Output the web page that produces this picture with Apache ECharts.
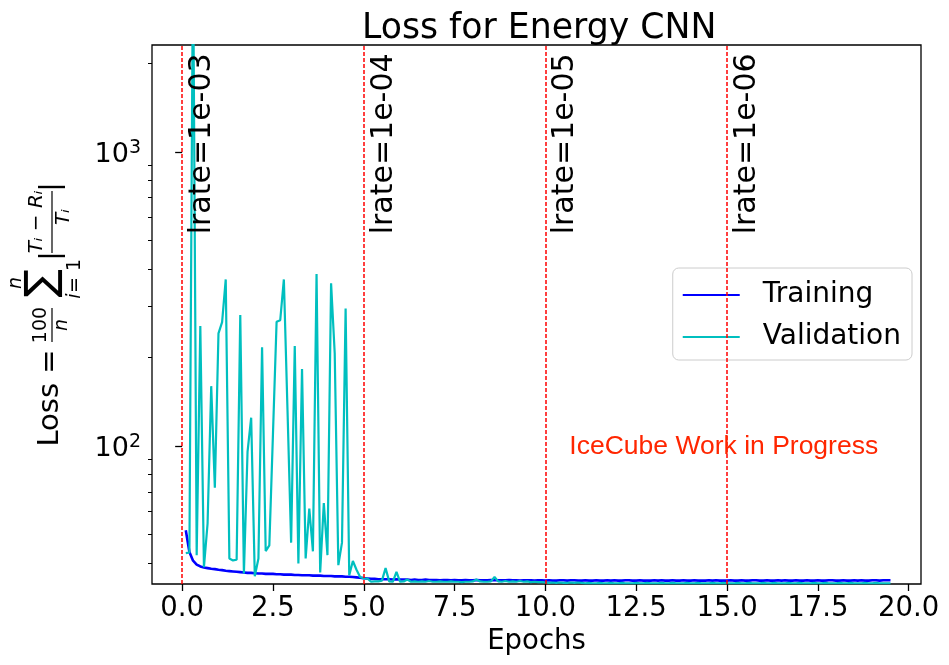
<!DOCTYPE html>
<html>
<head>
<meta charset="utf-8">
<script src="https://cdn.jsdelivr.net/npm/echarts@6/dist/echarts.min.js"></script>
<style>html,body{margin:0;padding:0;background:#fff}#main{width:949px;height:665px}</style>
</head>
<body>
<div id="main"></div>
<script>
var font = '"DejaVu Sans"';
var epochs = [0.1,0.2,0.3,0.4,0.5,0.6,0.7,0.8,0.9,1.0,1.1,1.2,1.3,1.4,1.5,1.6,1.7,1.8,1.9,2.0,
    2.1,2.2,2.3,2.4,2.5,2.6,2.7,2.8,2.9,3.0,3.1,3.2,3.3,3.4,3.5,3.6,3.7,3.8,3.9,4.0,
    4.1,4.2,4.3,4.4,4.5,4.6,4.7,4.8,4.9,5.0,5.1,5.2,5.3,5.4,5.5,5.6,5.7,5.8,5.9,6.0,
    6.1,6.2,6.3,6.4,6.5,6.6,6.7,6.8,6.9,7.0,7.1,7.2,7.3,7.4,7.5,7.6,7.7,7.8,7.9,8.0,
    8.1,8.2,8.3,8.4,8.5,8.6,8.7,8.8,8.9,9.0,9.1,9.2,9.3,9.4,9.5,9.6,9.7,9.8,9.9,10.0,
    10.1,10.2,10.3,10.4,10.5,10.6,10.7,10.8,10.9,11.0,11.1,11.2,11.3,11.4,11.5,11.6,11.7,11.8,11.9,12.0,
    12.1,12.2,12.3,12.4,12.5,12.6,12.7,12.8,12.9,13.0,13.1,13.2,13.3,13.4,13.5,13.6,13.7,13.8,13.9,14.0,
    14.1,14.2,14.3,14.4,14.5,14.6,14.7,14.8,14.9,15.0,15.1,15.2,15.3,15.4,15.5,15.6,15.7,15.8,15.9,16.0,
    16.1,16.2,16.3,16.4,16.5,16.6,16.7,16.8,16.9,17.0,17.1,17.2,17.3,17.4,17.5,17.6,17.7,17.8,17.9,18.0,
    18.1,18.2,18.3,18.4,18.5,18.6,18.7,18.8,18.9,19.0,19.1,19.2,19.3,19.4,19.5];
var training = [51.8,43.7,40.8,39.6,39.0,38.7,38.5,38.3,38.2,38.0,
    37.9,37.7,37.6,37.5,37.4,37.3,37.2,37.1,37.1,37.0,
    36.9,36.9,36.8,36.8,36.8,36.7,36.7,36.6,36.6,36.6,
    36.5,36.5,36.4,36.4,36.4,36.3,36.3,36.3,36.2,36.2,
    36.2,36.1,36.1,36.1,36.0,36.0,35.9,35.8,35.7,35.6,
    35.5,35.4,35.4,35.3,35.3,35.3,35.3,35.2,35.3,35.2,
    35.2,35.2,35.1,35.2,35.1,35.1,35.2,35.1,35.1,35.1,
    35.0,35.1,35.1,35.0,35.1,35.0,35.0,35.1,35.0,35.0,
    35.1,35.0,35.0,35.0,35.1,35.0,35.0,35.0,35.0,35.1,
    35.0,35.0,34.9,35.0,35.0,35.0,34.9,35.0,35.0,34.9,
    35.0,34.9,34.9,35.0,35.0,34.9,35.0,35.0,34.9,34.9,
    35.0,34.9,34.9,35.0,34.9,34.9,35.0,34.9,35.0,34.9,
    34.9,35.0,35.0,34.9,34.9,35.0,34.9,34.9,34.9,35.0,
    34.9,35.0,34.9,34.9,35.0,34.9,34.9,35.0,34.9,34.9,
    35.0,34.9,34.9,34.9,35.0,34.9,35.0,34.9,34.9,34.9,
    35.0,34.9,34.9,35.0,34.9,34.9,35.0,35.0,34.9,34.9,
    35.0,34.9,34.9,35.0,34.9,35.0,34.9,34.9,35.0,34.9,
    34.9,35.0,34.9,34.9,35.0,34.9,34.9,35.0,35.0,34.9,
    34.9,35.0,34.9,34.9,35.0,34.9,35.0,34.9,34.9,35.0,35.0,34.9,35.0,35.0,35.0];
var validation = [43.3,43.5,5000,42.6,256,38.8,54.6,160,72.3,242,
    264,369,41.5,40.9,41.1,279,36.9,95.6,125,36.1,
    41.5,217,44,46,110,265,268,369,133,47,
    219,39.9,183,41.5,61.4,43.9,385,37.2,64.1,42.6,
    358,207,39.4,47,294,36.4,40.7,38,35.9,35.5,
    35.5,34.6,34.7,34.7,34.9,38.5,34.7,34.6,37.4,34.6,
    34.7,35.2,34.6,34.7,34.6,34.7,34.6,34.8,34.6,34.6,
    34.7,34.6,34.6,34.7,34.6,34.6,34.5,34.6,34.6,34.7,
    35.2,34.7,34.6,34.6,34.7,35.9,34.7,34.6,34.8,34.6,
    34.7,34.6,34.8,34.6,34.7,34.5,34.6,34.5,34.5,34.4,
    34.3,34.4,34.3,34.4,34.3,34.3,34.4,34.3,34.4,34.3,
    34.2,34.3,34.2,34.2,34.3,34.2,34.2,34.3,34.2,34.2,
    34.3,34.2,34.2,34.2,34.3,34.2,34.2,34.3,34.2,34.2,
    34.2,34.3,34.2,34.2,34.3,34.2,34.2,34.2,34.3,34.2,
    34.2,34.3,34.2,34.2,34.2,34.3,34.2,34.2,34.3,34.2,
    34.2,34.2,34.3,34.2,34.2,34.3,34.2,34.2,34.2,34.3,
    34.2,34.2,34.3,34.2,34.2,34.2,34.3,34.2,34.2,34.3,
    34.2,34.2,34.2,34.3,34.2,34.2,34.3,34.2,34.2,34.2,
    34.3,34.2,34.2,34.3,34.2,34.2,34.2,34.3,34.2,34.2,34.3,34.2,34.2,34.2,34.2];
var lrateEpochs = [0, 5, 10, 15];
var lrateLabels = ['lrate=1e-03', 'lrate=1e-04', 'lrate=1e-05', 'lrate=1e-06'];
var xTicks = [0, 2.5, 5, 7.5, 10, 12.5, 15, 17.5, 20];
var yMajor = [100, 1000];
var yMinor = [40, 50, 60, 70, 80, 90, 200, 300, 400, 500, 600, 700, 800, 900, 2000];

function zip(xs, ys) {
    return xs.map(function (x, i) { return [x, ys[i]]; });
}

// y label is put together from rotated text pieces, no mathtext here
function rotText(x, y, text, size, italic) {
    return {
        type: 'text', x: x, y: y, rotation: Math.PI / 2,
        style: {
            text: text, fontFamily: font, fontSize: size,
            fontStyle: italic ? 'italic' : 'normal',
            fill: '#000', align: 'center', verticalAlign: 'middle'
        }
    };
}
function bar(x1, y1, x2, y2, w) {
    return { type: 'line', shape: { x1: x1, y1: y1, x2: x2, y2: y2 }, style: { stroke: '#000', lineWidth: w } };
}

var labelPoints = lrateEpochs.map(function (e, i) {
    return {
        coord: [e + 0.55, 525],
        label: { formatter: lrateLabels[i] }
    };
});

var myChart = echarts.init(document.getElementById('main'), null, { renderer: 'canvas' });
var option = {
    animation: false,
    backgroundColor: '#fff',
    title: {
        text: 'Loss for Energy CNN',
        left: 357, top: 6,
        textStyle: { fontFamily: font, fontSize: 34.7, fontWeight: 'normal', color: '#000' }
    },
    grid: { left: 152, right: 28, top: 45, bottom: 81, show: true, borderColor: '#000', borderWidth: 1.3, containLabel: false },
    legend: {
        orient: 'vertical', right: 37, top: 268,
        data: [{ name: 'Training', icon: 'rect' }, { name: 'Validation', icon: 'rect' }],
        itemWidth: 57, itemHeight: 2, itemGap: 14, padding: [13, 11, 9, 10],
        backgroundColor: '#fff', borderColor: '#ccc', borderWidth: 1, borderRadius: 6,
        textStyle: { fontFamily: font, fontSize: 28, lineHeight: 28, color: '#000', padding: [0, 0, 0, 18] }
    },
    xAxis: {
        type: 'value', min: -0.83, max: 20.34,
        name: 'Epochs', nameLocation: 'middle', nameGap: 40,
        nameTextStyle: { fontFamily: font, fontSize: 27.5, color: '#000' },
        splitLine: { show: false },
        axisLine: { show: false },
        axisTick: { show: true, length: 7, lineStyle: { color: '#000', width: 1.3 }, customValues: xTicks },
        axisLabel: {
            customValues: xTicks, margin: 11, color: '#000', fontFamily: font, fontSize: 27.5,
            formatter: function (v) { return v.toFixed(1); }
        }
    },
    yAxis: [{
        type: 'log', logBase: 10, min: 34, max: 2312, position: 'left',
        splitLine: { show: false },
        minorSplitLine: { show: false },
        axisLine: { show: false },
        axisTick: { show: true, length: 7, lineStyle: { color: '#000', width: 1.3 }, customValues: yMajor },
        axisLabel: {
            customValues: yMajor, margin: 11, color: '#000',
            formatter: function (v) { return '{b|10}{s|' + Math.round(Math.log10(v)) + '}'; },
            rich: {
                b: { fontFamily: font, fontSize: 27, color: '#000', padding: [6, 0, 0, 0] },
                s: { fontFamily: font, fontSize: 19, color: '#000', padding: [0, 0, 8, 0] }
            }
        }
    }, {
        type: 'log', logBase: 10, min: 34, max: 2312, position: 'left',
        splitLine: { show: false },
        axisLine: { show: false },
        axisLabel: { show: false },
        axisTick: { show: true, length: 4, lineStyle: { color: '#000', width: 1 }, customValues: yMinor }
    }],
    series: [{
        name: 'Training', type: 'line', symbol: 'none', z: 2,
        itemStyle: { color: '#0000ff' },
        lineStyle: { color: '#0000ff', width: 2.6 },
        data: zip(epochs, training)
    }, {
        name: 'Validation', type: 'line', symbol: 'none', z: 3,
        itemStyle: { color: '#00bfbf' },
        lineStyle: { color: '#00bfbf', width: 2.2 },
        data: zip(epochs, validation),
        markLine: {
            silent: true, symbol: 'none', animation: false,
            lineStyle: { color: '#ff0000', type: [4, 2], width: 1.5 },
            label: { show: false },
            data: lrateEpochs.map(function (e) { return { xAxis: e }; })
        },
        markPoint: {
            silent: true, symbol: 'circle', symbolSize: 0, animation: false,
            label: {
                show: true, position: 'inside', rotate: 90, align: 'left', verticalAlign: 'middle',
                fontFamily: font, fontSize: 30, color: '#000'
            },
            data: labelPoints.concat([{
                coord: [10.66, 100],
                label: {
                    formatter: 'IceCube Work in Progress', rotate: 0,
                    fontFamily: '"Liberation Sans"', fontSize: 26.5, color: '#ff2600'
                }
            }])
        }
    }],
    graphic: [
        rotText(50, 398, 'Loss =', 29),
        rotText(41, 325, '100', 19),
        bar(52, 308, 52, 342, 1.2),
        rotText(62, 325, 'n', 19, true),
        rotText(43, 283, '\u2211', 42),
        rotText(16, 283, 'n', 19, true),
        rotText(75, 296, 'i', 19, true),
        rotText(75, 276, '= 1', 19),
        bar(38, 256, 65, 256, 2.4),
        rotText(37, 222, 'T\u1D62 \u2212 R\u1D62', 20, true),
        bar(52, 191, 52, 253, 1.2),
        rotText(64, 217, 'T\u1D62', 20, true),
        bar(38, 187, 65, 187, 2.4)
    ]
};
myChart.setOption(option);
</script>
</body>
</html>
